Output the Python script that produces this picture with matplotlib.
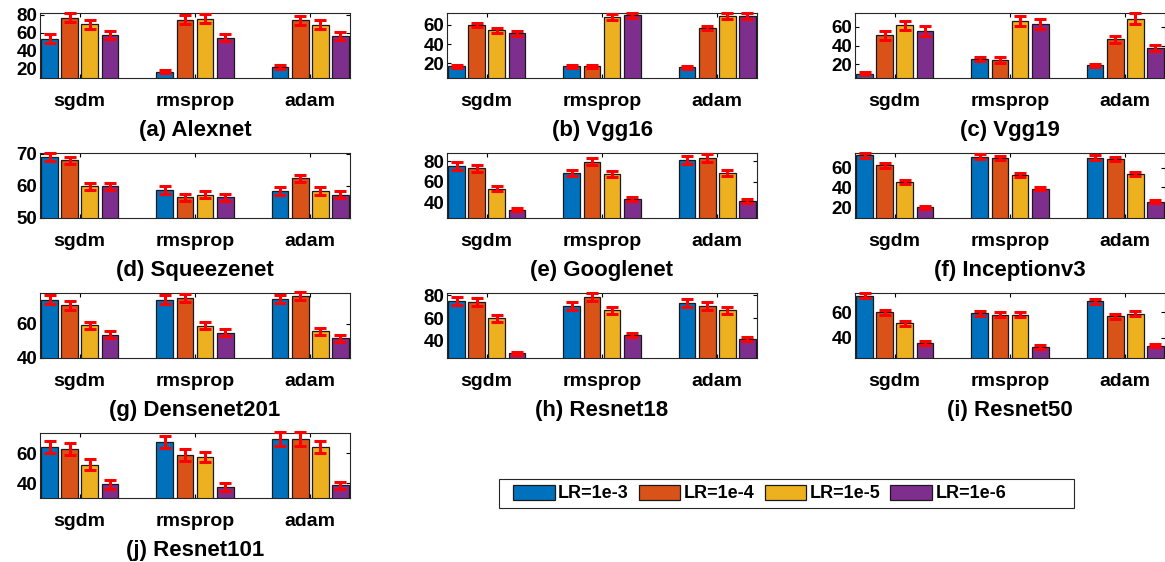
import numpy as np
import matplotlib
matplotlib.use("Agg")
import matplotlib.pyplot as plt
from matplotlib.patches import Patch, Rectangle

# ── Data ─────────────────────────────────────────────────────────────
# rows = optimizer (sgdm, rmsprop, adam), cols = learning rate

optimizers = ["sgdm", "rmsprop", "adam"]
lr_labels = ["LR=1e-3", "LR=1e-4", "LR=1e-5", "LR=1e-6"]

alexnet_mean = [[53.7, 77.0, 69.6, 58.1], [17.0, 74.8, 75.9, 54.8], [22.2, 74.1, 68.9, 57.0]]
alexnet_err = [[4.5, 5.5, 5.0, 4.5], [2.0, 5.0, 5.5, 4.0], [2.0, 5.0, 5.0, 4.5]]

vgg16_mean = [[16.9, 59.7, 54.2, 51.1], [16.9, 16.9, 67.5, 69.6], [15.9, 56.6, 68.5, 69.2]]
vgg16_err = [[1.5, 2.5, 2.5, 2.5], [1.5, 1.5, 3.0, 2.5], [1.5, 2.5, 3.0, 3.0]]

vgg19_mean = [[9.7, 51.1, 61.7, 55.7], [25.6, 24.3, 66.4, 63.5], [18.6, 46.5, 68.8, 37.3]]
vgg19_err = [[1.5, 5.0, 5.0, 5.0], [2.5, 3.0, 5.5, 5.5], [2.0, 4.0, 6.0, 3.0]]

squeezenet_mean = [[69.0, 67.9, 59.8, 59.8], [58.6, 56.4, 57.3, 56.4], [58.5, 62.3, 58.5, 57.3]]
squeezenet_err = [[1.2, 1.2, 1.2, 1.2], [1.2, 1.2, 1.2, 1.2], [1.2, 1.2, 1.2, 1.2]]

googlenet_mean = [[75.5, 73.3, 53.4, 33.2], [68.8, 79.4, 67.5, 43.8], [81.3, 83.2, 68.5, 41.5]]
googlenet_err = [[3.5, 3.5, 2.5, 1.8], [3.0, 3.5, 3.0, 2.0], [4.0, 4.0, 3.0, 2.0]]

inception_mean = [[72.6, 62.4, 46.0, 20.0], [71.3, 69.9, 52.5, 38.8], [70.3, 68.9, 53.5, 25.5]]
inception_err = [[2.5, 2.5, 2.0, 1.5], [2.5, 2.5, 2.0, 1.5], [2.5, 2.5, 2.0, 1.5]]

densenet_mean = [[74.1, 70.7, 59.2, 53.7], [74.1, 75.0, 58.8, 54.9], [74.5, 76.2, 55.6, 51.5]]
densenet_err = [[2.5, 2.5, 2.0, 2.0], [2.5, 2.5, 2.0, 2.0], [2.5, 2.5, 2.0, 2.0]]

resnet18_mean = [[75.3, 74.1, 60.0, 29.1], [70.9, 78.5, 66.8, 45.0], [73.2, 70.9, 66.8, 41.5]]
resnet18_err = [[3.5, 3.5, 3.0, 1.5], [3.5, 3.5, 3.0, 2.0], [3.5, 3.5, 3.0, 2.0]]

resnet50_mean = [[73.0, 59.7, 51.2, 35.8], [59.0, 57.9, 57.9, 32.7], [68.6, 56.6, 58.7, 33.8]]
resnet50_err = [[2.0, 2.0, 2.0, 1.5], [2.0, 2.0, 2.0, 1.5], [2.0, 2.0, 2.0, 1.5]]

resnet101_mean = [[64.0, 62.9, 52.3, 39.1], [67.3, 58.9, 57.6, 37.4], [69.5, 69.5, 64.0, 38.5]]
resnet101_err = [[4.0, 4.0, 3.5, 3.0], [4.0, 4.0, 3.5, 2.5], [4.5, 4.5, 4.0, 2.5]]

titles = ["(a) Alexnet", "(b) Vgg16", "(c) Vgg19", "(d) Squeezenet", "(e) Googlenet",
          "(f) Inceptionv3", "(g) Densenet201", "(h) Resnet18", "(i) Resnet50", "(j) Resnet101"]

# ── Style ────────────────────────────────────────────────────────────

plt.rcParams["font.family"] = ["Liberation Sans", "DejaVu Sans"]
plt.rcParams["font.weight"] = "bold"

colors = ["#0072BD", "#D95319", "#EDB120", "#7E2F8E"]

panels = [
    (alexnet_mean, alexnet_err, (10, 82), [20, 40, 60, 80]),
    (vgg16_mean, vgg16_err, (5, 72), [20, 40, 60]),
    (vgg19_mean, vgg19_err, (5, 75), [20, 40, 60]),
    (squeezenet_mean, squeezenet_err, (50, 70.2), [50, 60, 70]),
    (googlenet_mean, googlenet_err, (25, 88), [40, 60, 80]),
    (inception_mean, inception_err, (9, 75), [20, 40, 60]),
    (densenet_mean, densenet_err, (40, 78), [40, 60]),
    (resnet18_mean, resnet18_err, (25, 82), [40, 60, 80]),
    (resnet50_mean, resnet50_err, (24, 75), [40, 60]),
    (resnet101_mean, resnet101_err, (30, 73.5), [40, 60]),
]

W, H = 1165, 562
col_left = [40, 447, 855]
row_top = [13, 153, 293, 433]
ax_w, ax_h = 310, 65

fig = plt.figure(figsize=(W / 100, H / 100), dpi=100)

pitch = 0.175
bw = 0.145
x = np.arange(1, 4)

for k, (mean, err, ylim, yticks) in enumerate(panels):
    r, c = divmod(k, 3)
    ax = fig.add_axes([col_left[c] / W, 1 - (row_top[r] + ax_h) / H, ax_w / W, ax_h / H])
    mean = np.array(mean)
    err = np.array(err)
    for j in range(4):
        xs = x + (j - 1.5) * pitch
        ax.bar(xs, mean[:, j], width=bw, color=colors[j], edgecolor="#1a1a1a",
               linewidth=0.9, zorder=2)
        eb = ax.errorbar(xs, mean[:, j], yerr=err[:, j], fmt="none", ecolor="red",
                         elinewidth=2.2, capsize=4.5, capthick=2.2, zorder=3)
        for art in eb.lines[1] + eb.lines[2]:
            art.set_clip_on(False)
    ax.set_xlim(1 - 0.345, 3 + 0.345)
    ax.set_ylim(*ylim)
    ax.set_yticks(yticks)
    ax.set_xticks(x)
    ax.set_xticklabels(optimizers, fontsize=14, fontweight="bold")
    ax.tick_params(axis="y", labelsize=13.5, direction="in", right=True, length=3, pad=2)
    ax.tick_params(axis="x", direction="in", top=True, length=3, pad=11)
    for s in ax.spines.values():
        s.set_color("#262626")
        s.set_linewidth(0.8)
    ax.set_xlabel(titles[k], fontsize=16, fontweight="bold", labelpad=7)

# legend: entries left-aligned inside a wider box, MATLAB style
handles = [Patch(facecolor=colors[j], edgecolor="#1a1a1a", linewidth=0.9) for j in range(4)]
fig.legend(handles, lr_labels, ncol=4, loc="center left",
           bbox_to_anchor=(513 / W, 1 - 493.5 / H), fontsize=13, frameon=False,
           handlelength=2.3, handleheight=0.95, handletextpad=0.2,
           columnspacing=0.55, borderpad=0, borderaxespad=0)
fig.patches.append(Rectangle((499 / W, 1 - 508 / H), 575 / W, 29 / H,
                             transform=fig.transFigure, fill=False,
                             edgecolor="#262626", linewidth=0.8))

fig.savefig("out.png", dpi=100)
